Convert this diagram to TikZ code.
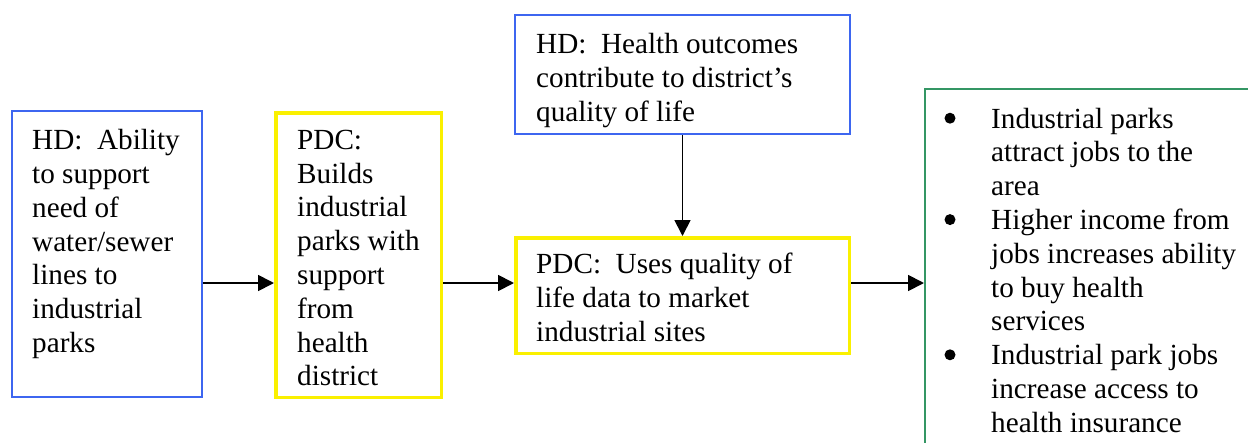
\documentclass[tikz,border=0pt]{standalone}
\usepackage{fontspec}
\setmainfont{Liberation Serif}
\usetikzlibrary{arrows.meta}
\definecolor{hdblue}{RGB}{61,102,240}
\definecolor{pdcyellow}{RGB}{250,240,0}
\definecolor{outgreen}{RGB}{52,150,100}

\begin{document}
\begin{tikzpicture}[x=1pt,y=-1pt,
  hdbox/.style={draw=hdblue, line width=2.3pt, rectangle, inner sep=0pt},
  pdcbox/.style={draw=pdcyellow, line width=3.5pt, rectangle, inner sep=0pt},
  outbox/.style={draw=outgreen, line width=2pt, rectangle, inner sep=0pt},
  txt/.style={anchor=north west, inner sep=0pt, align=left,
    font=\fontsize{29.2}{33.8}\selectfont},
  dot/.style={circle, fill=black, inner sep=0pt, minimum size=11pt},
  link/.style={-{Triangle[length=16pt,width=16pt]}, line width=1.8pt, black}]

\useasboundingbox (0,0) rectangle (1248,442);
\clip (0,0) rectangle (1248,442);

% frames
\node[hdbox,  minimum width=190pt,   minimum height=286pt]   (ability) at (107,254) {};
\node[pdcbox, minimum width=165.5pt, minimum height=284.5pt] (builds)  at (358.5,255) {};
\node[hdbox,  minimum width=335pt,   minimum height=119pt]   (health)  at (682.5,74.5) {};
\node[pdcbox, minimum width=333.5pt, minimum height=115.5pt] (market)  at (682.5,295.5) {};
\node[outbox, anchor=north west, minimum width=400pt, minimum height=400pt] (result) at (924,88) {};

% texts
\node[txt] (abilitytext) at (32,129.2) {HD:~ Ability\\to support\\need of\\water/sewer\\lines to\\industrial\\parks};
\node[txt] (buildstext) at (297,129.8) {PDC:\\Builds\\industrial\\parks with\\support\\from\\health\\district};
\node[txt] (healthtext) at (536,33.2) {HD:~ Health outcomes\\contribute to district’s\\quality of life};
\node[txt] (markettext) at (536,253.2) {PDC:~ Uses quality of\\life data to market\\industrial sites};
\node[txt] (resulttext) at (991,107.7) {%
Industrial parks\\
attract jobs to the\\
area\\
Higher income from\\
jobs increases ability\\
to buy health\\
services\\
Industrial park jobs\\
increase access to\\
health insurance};

% list bullets (on lines 1, 4 and 8 of the list)
\node[dot] (bulletone)   at (950,118.2) {};
\node[dot] (bullettwo)   at (950,219.6) {};
\node[dot] (bulletthree) at (950,354.8) {};

% connectors
\coordinate (row) at (0,283);
\draw[link] (ability.east |- row) -- (builds.west |- row);
\draw[link] (builds.east |- row) -- (market.west |- row);
\draw[link] (market.east |- row) -- (result.west |- row);
\draw[link] (health.south) -- (market.north);
\end{tikzpicture}
\end{document}
